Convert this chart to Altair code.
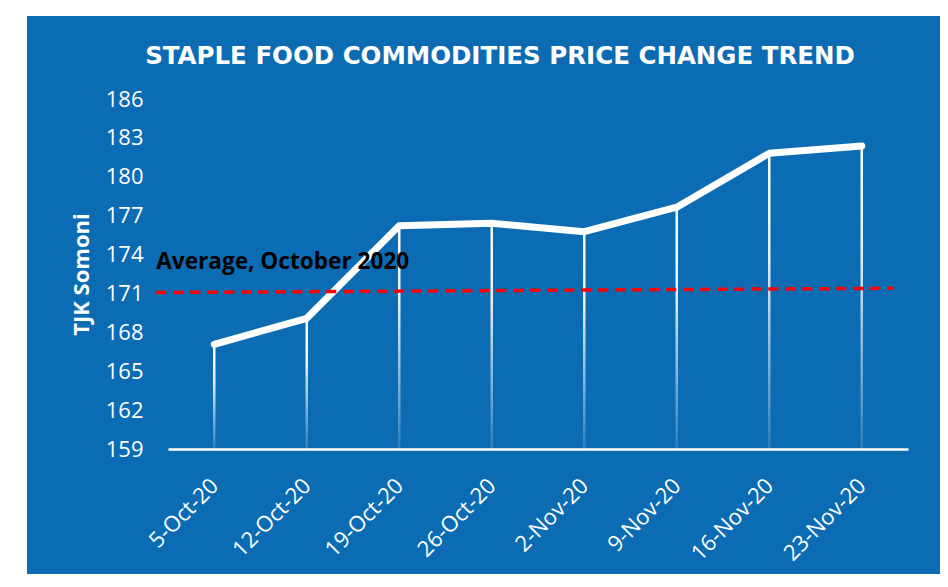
import altair as alt
import pandas as pd

# ---- data ----
dates = ["5-Oct-20", "12-Oct-20", "19-Oct-20", "26-Oct-20",
         "2-Nov-20", "9-Nov-20", "16-Nov-20", "23-Nov-20"]
prices = [167.08, 169.08, 176.23, 176.41, 175.76, 177.65, 181.81, 182.37]
avg_start = 171.07
avg_end = 171.40
avg_label = "Average, October 2020"
y_ticks = [159, 162, 165, 168, 171, 174, 177, 180, 183, 186]
title_text = "STAPLE FOOD COMMODITIES PRICE CHANGE TREND"
y_title = "TJK Somoni"

BLUE = "#0b6cb3"
W, H = 740, 350

df = pd.DataFrame({"date": dates, "price": prices})
avg_df = pd.DataFrame({"date": [dates[0]], "d1": [dates[-1]],
                       "price": [avg_start], "a1": [avg_end], "label": [avg_label]})
bg_df = pd.DataFrame({"k": [0]})

x_scale = alt.Scale(type="point", domain=dates, padding=0.5)
y_scale = alt.Scale(domain=[159, 186], nice=False, zero=False)

x_axis = alt.Axis(title=None, labelAngle=-45, labelAlign="right",
                  labelBaseline="middle", labelPadding=33,
                  labelColor="white", labelFont="Open Sans",
                  labelFontSize=22, ticks=False, tickSize=0,
                  labelOverlap=False,
                  domain=True, domainColor="white", domainWidth=2.5,
                  grid=False, zindex=1)
y_axis = alt.Axis(title=y_title, values=y_ticks, labelColor="white",
                  labelFont="Open Sans", labelFontSize=22,
                  labelPadding=25, ticks=False, tickSize=0,
                  labelOverlap=False, labelFlush=False,
                  domain=False, grid=False, titleColor="white",
                  titleFont="Open Sans", titleFontSize=22,
                  titleFontWeight="bold", titlePadding=12, zindex=1)

x_enc = alt.X("date:N", scale=x_scale, sort=dates, axis=x_axis)
y_enc = alt.Y("price:Q", scale=y_scale, axis=y_axis)

background = alt.Chart(bg_df).mark_rect(color=BLUE).encode(
    x=alt.value(-141), x2=alt.value(W + 40),
    y=alt.value(-83), y2=alt.value(H + 140))

drops = alt.Chart(df).mark_bar(
    width=2.5,
    color=alt.Gradient(
        gradient="linear", x1=0, x2=0, y1=0, y2=1,
        stops=[alt.GradientStop(offset=0, color="rgba(255,255,255,1)"),
               alt.GradientStop(offset=0.35, color="rgba(255,255,255,0.9)"),
               alt.GradientStop(offset=1, color="rgba(255,255,255,0.12)")])
).encode(x=x_enc, y=y_enc, y2=alt.datum(159))

line = alt.Chart(df).mark_line(
    color="white", strokeWidth=7, strokeCap="round", strokeJoin="round"
).encode(x=x_enc, y=y_enc)

avg_rule = alt.Chart(avg_df).mark_rule(
    color="#ff0000", strokeWidth=3.5, strokeDash=[10, 7], xOffset=-58, x2Offset=32
).encode(x=x_enc, x2="d1:N", y=y_enc, y2="a1:Q")

avg_text = alt.Chart(avg_df).mark_text(
    align="left", baseline="alphabetic", dx=-58, dy=-24, font="Open Sans",
    fontSize=22.6, fontWeight="bold", color="black"
).encode(x=x_enc, y=y_enc, text="label:N")

chart = alt.layer(background, drops, line, avg_rule, avg_text).properties(
    width=W, height=H,
    title=alt.TitleParams(title_text, anchor="middle", frame="group", dx=-38,
                          offset=0, dy=72, baseline="alphabetic", color="white",
                          font="DejaVu Sans", fontSize=24.5, fontWeight="bold"),
    padding={"left": 160, "top": 91, "right": 32, "bottom": 125},
    autosize=alt.AutoSizeParams(type="none"),
).configure(background="white").configure_view(stroke=None).configure_axis(
    labelOverlap=False)

chart.save("out.html", embed_options={"renderer": "svg", "actions": False})
